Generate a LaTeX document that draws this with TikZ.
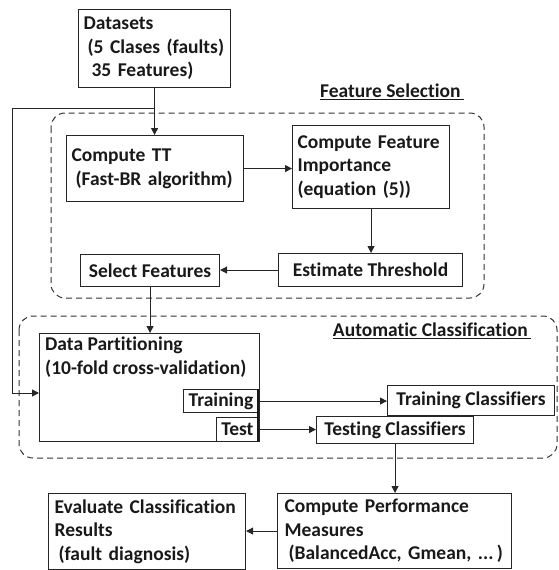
\documentclass[tikz,border=0pt]{standalone}
\usepackage{fontspec}
\setmainfont{Carlito}[Ligatures={NoCommon}]
\usetikzlibrary{arrows.meta}
\begin{document}
\begin{tikzpicture}[x=1pt,y=-1pt,
  every node/.style={font=\fontsize{19.5}{23.5}\selectfont\bfseries, text=black!90},
  box/.style={draw=black!85, line width=1.1pt, anchor=north west, inner sep=0pt},
  lbox/.style={box, align=left},
  dbox/.style={draw=black!80, line width=1pt, dash pattern=on 6pt off 4pt, rounded corners=14pt},
  arr/.style={line width=1pt, draw=black!85, -{Triangle[length=7pt,width=7pt]}},
  ln/.style={line width=1pt, draw=black!85}]
\useasboundingbox (0,0) rectangle (558,570);
% dashed groups
\draw[dbox] (51,113) rectangle (484,298);
\draw[dbox] (19,316) rectangle (557,458);
\node (fsl) at (392,92) {\underline{Feature Selection\,}};
\node (acl) at (432,331) {\underline{Automatic Classification\,}};
% boxes
\node[lbox, minimum width=152pt, minimum height=78pt, text width=142pt, inner xsep=5pt] (ds) at (78,9)
  {Datasets\\\hspace*{4pt}(5 Clases (faults)\\\hspace*{8pt}35 Features)};
\node[lbox, minimum width=177pt, minimum height=66pt, text width=167pt, inner xsep=5pt] (ctt) at (66,135)
  {Compute TT\\\hspace*{4pt}(Fast-BR algorithm)};
\node[lbox, minimum width=157pt, minimum height=83pt, text width=147pt, inner xsep=5pt] (cfi) at (292,125)
  {Compute Feature\\Importance\\(equation (5))};
\node[box, minimum width=184pt, minimum height=33pt] (et) at (278,253) {Estimate Threshold};
\node[box, minimum width=139pt, minimum height=32pt] (sf) at (80,254) {Select Features};
\node[box, minimum width=220pt, minimum height=108pt] (dp) at (39,333) {};
\node[anchor=north west, align=left, inner sep=0pt] (dpt) at (45,337)
  {Data Partitioning\\(10-fold cross-validation)};
\node[box, anchor=north east, minimum width=75pt, minimum height=23pt] (trn) at (259,389) {Training};
\node[box, anchor=north east, minimum width=42pt, minimum height=24pt] (tst) at (259,417) {Test};
\draw[line width=2.6pt, draw=black!90] (257.8,389) -- (257.8,441);
\node[box, minimum width=167pt, minimum height=30pt] (trc) at (387,385) {Training Classifiers};
\node[box, minimum width=157pt, minimum height=27pt] (tsc) at (316,416) {Testing Classifiers};
\node[lbox, minimum width=234pt, minimum height=75pt, text width=220pt, inner xsep=7pt] (cpm) at (277,493)
  {Compute Performance\\Measures\\\makebox[0pt][l]{\hspace*{4pt}(BalancedAcc, Gmean, ...\,)}};
\node[lbox, minimum width=197pt, minimum height=76pt, text width=185pt, inner xsep=6pt] (ev) at (48,493)
  {Evaluate Classification\\Results\\\hspace*{4pt}(fault diagnosis)};
% connectors
\coordinate (jn) at (154,108);
\coordinate (lc) at (12,108);
\coordinate (dpin) at (39,393);
\draw[arr] (ds.south) -- (ds.south |- ctt.north);
\draw[arr] (jn) -- (lc) |- (dpin);
\draw[arr] (ctt.east) -- (ctt.east -| cfi.west);
\draw[arr] (cfi.south) -- (cfi.south |- et.north);
\draw[arr] (et.west) -- (et.west -| sf.east);
\draw[arr] (sf.south) -- (sf.south |- dp.north);
\draw[arr] (trn.east) -- (trn.east -| trc.west);
\draw[arr] (tst.east) -- (tst.east -| tsc.west);
\draw[arr] (tsc.south) -- (tsc.south |- cpm.north);
\draw[arr] (cpm.west) -- (cpm.west -| ev.east);
\end{tikzpicture}
\end{document}
